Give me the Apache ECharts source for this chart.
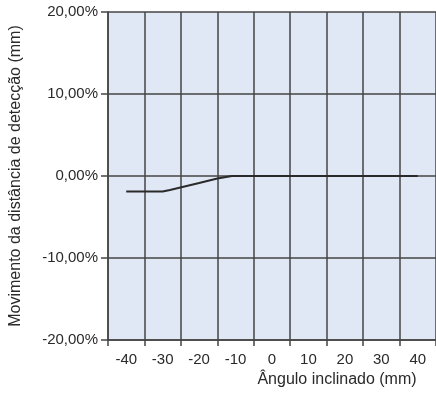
<!DOCTYPE html>
<html>
<head>
<meta charset="utf-8">
<script src="https://cdn.jsdelivr.net/npm/echarts@6/dist/echarts.min.js"></script>
<style>html,body{margin:0;padding:0;background:#fff}#c{width:436px;height:396px}</style>
</head>
<body>
<div id="c"></div>
<script>
const categories = ['-40','-30','-20','-10','0','10','20','30','40'];
const angles = [-40, -30, -28, -20, -15, -11, 0, 10, 20, 30, 40];
const movement = [-1.9, -1.9, -1.7, -0.85, -0.3, 0, 0, 0, 0, 0, 0];
const yTicks = [-20, -10, 0, 10, 20];

const chart = echarts.init(document.getElementById('c'), null, {renderer: 'canvas'});
const lineCol = '#444';
const textCol = '#2a2a2a';
const font = 'Liberation Sans, Arial, sans-serif';
chart.setOption({
  animation: false,
  backgroundColor: '#fff',
  grid: {left: 107, right: -3, top: 12, bottom: 56, show: true, backgroundColor: '#e1e8f5', borderWidth: 0},
  xAxis: [{
    type: 'category',
    data: categories,
    boundaryGap: true,
    name: 'Ângulo inclinado (mm)',
    nameLocation: 'middle',
    nameGap: 32,
    nameTextStyle: {color: textCol, fontSize: 16, fontFamily: font, padding: [0, 0, 0, 130]},
    axisLine: {onZero: false, lineStyle: {color: lineCol, width: 1.5}},
    axisTick: {show: true, length: 6, lineStyle: {color: lineCol, width: 1.5}},
    axisLabel: {color: textCol, fontSize: 15, fontFamily: font, margin: 12, interval: 0},
    splitLine: {show: true, interval: 0, lineStyle: {color: lineCol, width: 1.5}}
  }, {
    type: 'value', min: -45, max: 45, show: false
  }],
  yAxis: {
    type: 'value',
    min: yTicks[0], max: yTicks[yTicks.length - 1], interval: 10,
    name: 'Movimento da distância de detecção (mm)',
    nameLocation: 'middle',
    nameGap: 84,
    nameTextStyle: {color: textCol, fontSize: 16, fontFamily: font},
    axisLine: {show: true, onZero: false, lineStyle: {color: lineCol, width: 1.5}},
    axisTick: {show: true, length: 7, lineStyle: {color: lineCol, width: 1.5}},
    axisLabel: {color: textCol, fontSize: 15, fontFamily: font, margin: 10,
      formatter: v => v.toFixed(2).replace('.', ',') + '%'},
    splitLine: {show: true, lineStyle: {color: lineCol, width: 1.5}}
  },
  series: [{
    type: 'line',
    xAxisIndex: 1,
    data: angles.map((a, i) => [a, movement[i]]),
    showSymbol: false,
    lineStyle: {color: '#2a2a2a', width: 2},
    smooth: false
  }]
});
</script>
</body>
</html>
